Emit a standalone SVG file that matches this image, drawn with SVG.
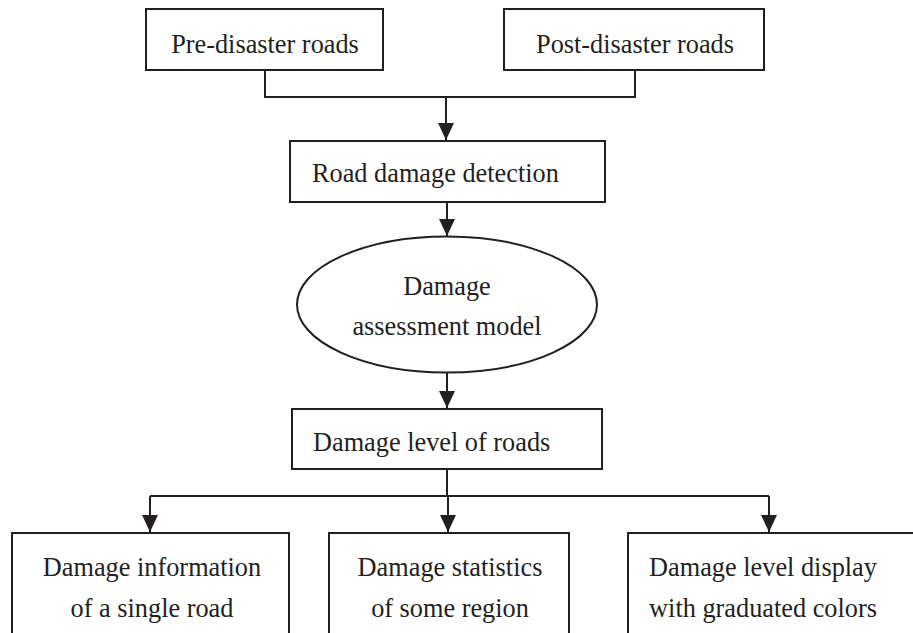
<svg xmlns="http://www.w3.org/2000/svg" width="913" height="633" viewBox="0 0 913 633">
<style>
.box{fill:#fff;stroke:#231f20;stroke-width:2}
text{font-family:'Liberation Serif','Times New Roman','DejaVu Serif',serif;font-size:26.3px;fill:#231f20}
.c{text-anchor:middle}
.ln{fill:none;stroke:#231f20;stroke-width:2}
</style>
<defs>
<marker id="ah" markerUnits="userSpaceOnUse" markerWidth="18" markerHeight="16" viewBox="0 0 18 16" refX="17" refY="8" orient="auto">
<path d="M0,0 L17,8 L0,16 z" fill="#231f20"/>
</marker>
</defs>
<rect width="913" height="633" fill="#fff"/>
<g id="connectors">
<path class="ln" d="M265,70 V97 H635 V70"/>
<path class="ln" d="M446,97 V140" marker-end="url(#ah)"/>
<path class="ln" d="M447,202 V236" marker-end="url(#ah)"/>
<path class="ln" d="M447,373 V408" marker-end="url(#ah)"/>
<path class="ln" d="M447,469 V496"/>
<path class="ln" d="M150,496 H769"/>
<path class="ln" d="M150,496 V532" marker-end="url(#ah)"/>
<path class="ln" d="M448,496 V532" marker-end="url(#ah)"/>
<path class="ln" d="M769,496 V532" marker-end="url(#ah)"/>
</g>
<g id="pre">
<rect class="box" x="146" y="9" width="237" height="61"/>
<text class="c" x="265" y="53" font-family="Liberation Serif, serif">Pre-disaster roads</text>
</g>
<g id="post">
<rect class="box" x="504" y="9" width="260" height="61"/>
<text class="c" x="635" y="53" font-family="Liberation Serif, serif">Post-disaster roads</text>
</g>
<g id="detect">
<rect class="box" x="290" y="141" width="315" height="61"/>
<text x="312" y="182" font-family="Liberation Serif, serif">Road damage detection</text>
</g>
<g id="model">
<ellipse class="box" cx="447" cy="304.5" rx="150" ry="68"/>
<text class="c" x="447" y="295" font-family="Liberation Serif, serif">Damage</text>
<text class="c" x="447" y="335" font-family="Liberation Serif, serif">assessment model</text>
</g>
<g id="level">
<rect class="box" x="292" y="409" width="310" height="60"/>
<text x="313" y="451" font-family="Liberation Serif, serif">Damage level of roads</text>
</g>
<g id="single">
<rect class="box" x="12" y="533" width="277" height="120"/>
<text class="c" x="152" y="576" font-family="Liberation Serif, serif">Damage information</text>
<text class="c" x="152" y="617" font-family="Liberation Serif, serif">of a single road</text>
</g>
<g id="region">
<rect class="box" x="329" y="533" width="240" height="120"/>
<text class="c" x="450" y="576" font-family="Liberation Serif, serif">Damage statistics</text>
<text class="c" x="450" y="617" font-family="Liberation Serif, serif">of some region</text>
</g>
<g id="display">
<rect class="box" x="628" y="533" width="300" height="120"/>
<text class="c" x="763" y="576" font-family="Liberation Serif, serif">Damage level display</text>
<text class="c" x="763" y="617" font-family="Liberation Serif, serif">with graduated colors</text>
</g>
</svg>
